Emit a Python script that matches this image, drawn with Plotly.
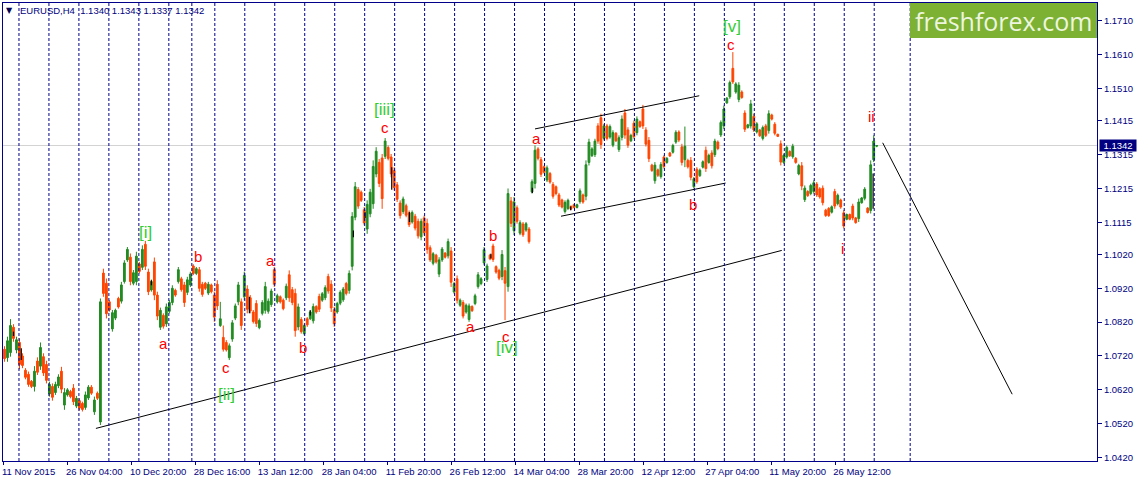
import plotly.graph_objects as go

# Price values in pips (price x 10000), one entry per sampled H4 bar
bar_high = [
10749,10777,10829,10814,10777,10772,10728,10684,10674,10649,10690,10716,10760,10728,10706,10644,10639,10644,10666,10688,
10625,10625,10620,10637,10602,10595,10585,10615,10634,10634,10600,10615,10890,10978,10949,10885,10856,10860,10895,10939,
11003,11042,11023,10974,11028,10998,11047,11060,10978,10946,11011,10910,10863,10846,10875,10885,10929,10919,10983,10954,
10939,10954,10969,10991,10983,10983,10939,10939,10939,10934,10910,10944,10880,10810,10767,10757,10826,10875,10939,10890,
10969,10929,10900,10856,10885,10831,10885,10939,10890,10919,10983,10904,10899,10890,10934,10973,10924,10919,10875,10835,
10816,10835,10855,10875,10870,10904,10909,10929,10963,10944,10865,10880,10914,10924,10939,10973,11145,11234,11219,11209,
11160,11180,11214,11298,11337,11302,11317,11364,11342,11317,11278,11234,11180,11191,11170,11150,11150,11140,11126,11126,
11135,11126,11047,11027,11022,11012,11042,11027,11067,11042,10939,10958,10890,10885,10875,10875,10870,10904,10968,10953,
11042,10993,11022,11052,10988,10978,11033,10983,11215,11190,11190,11165,11121,11116,11116,11101,11242,11342,11337,11308,
11283,11283,11264,11234,11224,11202,11185,11180,11185,11165,11170,11170,11215,11200,11298,11362,11337,11362,11408,11436,
11406,11406,11404,11387,11382,11372,11431,11450,11396,11377,11416,11428,11416,11462,11396,11367,11288,11293,11274,11293,
11313,11308,11323,11347,11387,11387,11347,11398,11303,11308,11249,11278,11274,11298,11339,11318,11328,11362,11357,11416,
11460,11485,11534,11618,11529,11529,11505,11446,11406,11477,11436,11411,11391,11401,11406,11446,11436,11411,11377,11357,
11318,11342,11328,11347,11308,11288,11293,11224,11210,11229,11239,11234,11219,11224,11155,11160,11165,11214,11200,11185,
11151,11141,11141,11170,11131,11185,11190,11219,11160,11298,11372,11343]
bar_low = [
10703,10703,10718,10762,10728,10681,10684,10651,10629,10625,10615,10664,10679,10661,10639,10600,10588,10605,10625,10610,
10561,10600,10595,10575,10566,10559,10556,10561,10590,10605,10546,10590,10516,10895,10831,10851,10792,10826,10860,10875,
10934,10998,10929,10929,10929,10964,10974,10974,10900,10910,10885,10826,10797,10801,10806,10846,10870,10895,10934,10910,
10865,10900,10924,10959,10959,10910,10895,10915,10900,10905,10821,10856,10806,10733,10733,10708,10762,10826,10870,10797,
10885,10846,10846,10816,10806,10799,10840,10845,10845,10865,10924,10875,10875,10855,10885,10880,10870,10777,10796,10786,
10781,10806,10826,10816,10845,10850,10880,10885,10904,10850,10806,10845,10870,10880,10899,10904,10973,11121,11155,11175,
11106,11081,11130,11155,11248,11219,11155,11302,11298,11248,11209,11175,11126,11140,11130,11101,11111,11091,11067,11062,
11076,11022,10998,10988,10993,10953,10998,11008,11008,10924,10904,10875,10865,10831,10845,10821,10850,10870,10919,10929,
10988,10939,11003,10998,10963,10944,10944,10826,10910,11101,11077,11111,11077,11072,11087,11052,11200,11215,11298,11249,
11259,11234,11229,11185,11195,11160,11156,11141,11151,11151,11156,11156,11170,11170,11180,11283,11308,11308,11347,11332,
11357,11357,11362,11337,11352,11323,11357,11362,11335,11352,11362,11372,11394,11391,11339,11293,11264,11229,11249,11244,
11274,11288,11308,11318,11347,11352,11283,11278,11274,11239,11215,11229,11249,11274,11264,11288,11274,11308,11328,11367,
11391,11465,11480,11524,11495,11470,11480,11382,11392,11392,11382,11377,11367,11357,11367,11377,11416,11372,11367,11283,
11288,11303,11308,11303,11288,11254,11210,11175,11190,11195,11200,11190,11185,11165,11131,11131,11141,11155,11165,11155,
11097,11121,11121,11121,11111,11116,11170,11180,11141,11141,11293,11337]
bar_open = [
10740,10715,10730,10805,10738,10760,10720,10678,10666,10645,10630,10705,10690,10718,10695,10608,10630,10612,10632,10675,
10575,10605,10615,10625,10572,10588,10580,10568,10596,10628,10555,10610,10525,10965,10935,10880,10800,10832,10890,10882,
10940,11004,11012,10935,10940,10992,10982,11050,10968,10915,10998,10900,10805,10840,10815,10852,10878,10914,10940,10948,
10930,10908,10930,10986,10964,10975,10932,10935,10906,10930,10900,10932,10810,10775,10760,10715,10770,10832,10880,10880,
10895,10918,10892,10850,10875,10804,10846,10855,10852,10872,10975,10880,10895,10885,10892,10960,10916,10905,10806,10828,
10786,10830,10830,10824,10866,10896,10885,10892,10955,10932,10857,10850,10876,10886,10934,10914,10985,11130,11212,11204,
11152,11095,11140,11170,11258,11292,11305,11310,11336,11308,11268,11226,11172,11147,11164,11143,11116,11133,11118,11072,
11128,11112,11040,10994,11018,10962,11004,11024,11016,11030,10909,10948,10870,10878,10850,10828,10866,10875,10925,10934,
10995,10946,11018,11045,10984,10973,10955,10972,10925,11178,11090,11158,11083,11110,11092,11095,11205,11230,11332,11300,
11279,11240,11259,11227,11220,11196,11181,11147,11156,11162,11167,11159,11176,11196,11192,11292,11312,11315,11400,11424,
11363,11400,11367,11343,11378,11330,11366,11438,11388,11356,11408,11380,11412,11450,11388,11357,11284,11238,11270,11250,
11308,11292,11320,11322,11352,11382,11338,11300,11298,11298,11220,11272,11253,11278,11328,11292,11320,11315,11352,11373,
11400,11468,11486,11570,11500,11478,11500,11438,11395,11400,11428,11382,11388,11363,11400,11386,11432,11405,11375,11347,
11292,11308,11324,11309,11304,11258,11282,11182,11206,11200,11206,11228,11214,11216,11151,11156,11145,11206,11170,11181,
11143,11124,11138,11163,11128,11126,11173,11186,11157,11150,11300,11340]
bar_close = [
10712,10765,10810,10772,10768,10695,10692,10657,10636,10630,10675,10672,10745,10670,10648,10636,10598,10636,10658,10622,
10612,10620,10600,10585,10595,10566,10562,10605,10628,10610,10590,10595,10880,10905,10845,10856,10848,10855,10865,10930,
10995,11035,10940,10966,11015,10970,11035,10985,10910,10940,10900,10838,10855,10808,10865,10878,10920,10900,10975,10916,
10878,10945,10962,10964,10978,10920,10902,10920,10932,10910,10835,10868,10830,10740,10738,10750,10818,10868,10930,10810,
10958,10858,10853,10822,10816,10825,10878,10925,10882,10912,10932,10898,10880,10860,10926,10892,10878,10795,10865,10792,
10810,10812,10850,10866,10850,10858,10904,10922,10912,10862,10815,10875,10908,10918,10905,10964,11132,11220,11163,11180,
11113,11168,11204,11280,11325,11230,11185,11355,11304,11258,11218,11183,11135,11184,11136,11108,11144,11098,11075,11118,
11084,11035,11004,11022,10998,11004,11036,11012,11058,10938,10934,10885,10885,10838,10870,10868,10854,10898,10960,10948,
11034,10986,11007,11005,10968,10950,11020,10935,11200,11112,11175,11118,11114,11078,11111,11058,11235,11328,11304,11257,
11263,11276,11234,11192,11200,11166,11160,11174,11180,11154,11159,11167,11208,11175,11285,11352,11332,11355,11355,11345,
11400,11363,11398,11380,11356,11365,11420,11373,11343,11372,11368,11420,11398,11400,11346,11303,11268,11284,11254,11286,
11280,11304,11311,11342,11381,11358,11292,11340,11279,11248,11244,11235,11269,11294,11274,11313,11282,11355,11333,11410,
11450,11482,11528,11530,11524,11520,11484,11390,11403,11465,11388,11406,11371,11395,11372,11436,11420,11378,11369,11293,
11313,11336,11312,11340,11292,11283,11222,11216,11194,11224,11232,11196,11190,11173,11135,11135,11161,11163,11195,11160,
11104,11138,11124,11128,11114,11175,11187,11213,11144,11285,11355,11342]

# Thin black doji-coloured bars seen among the candles
black_bar = [3.0,5.6,49.0,81.7,102.0,116.4,120.3,129.2,135.1,162.3,176.1,188.9,289.8]
black_high = [10792,10743,10944,10895,10855,11091,11145,11278,11145,11022,11217,11162,11259]
black_low = [10779,10708,10929,10846,10840,11071,11128,11211,11116,11008,11202,11151,11155]

# Hand-drawn trend lines
base_line_x = [30.5, 259.33];   base_line_y = [1.0506, 1.1032]
upper_chan_x = [177.0, 231.8];  upper_chan_y = [1.1391, 1.1489]
lower_chan_x = [185.67, 240.6]; lower_chan_y = [1.1133, 1.1231]
forecast_x = [293.0, 336.2];    forecast_y = [1.1350, 1.0607]

# Vertical dashed period separators (bar numbers)
separators = [4.83,14.83,24.83,34.83,44.83,54.83,62.5,70.17,80.17,90.17,100.17,110.17,120.17,130.17,140.17,150.17,
              160.17,170.17,180.17,190.17,200.17,210.17,220.17,230.17,240.17,250.17,260.17,270.17,280.17,290.17,302.17]

# Wave counts
red_text = ["a","b","c","a","b","c","a","b","c","a","b","c","i","ii"]
red_x = [53,64.67,74,88.67,99.67,127,155.33,162.9,167.33,177.33,229.67,242.33,279.57,289.23]
red_y = [1.0758,1.1015,1.0687,1.1003,1.0746,1.1395,1.0808,1.1077,1.0779,1.1363,1.1168,1.1640,1.1039,1.1429]
green_text = ["[i]","[ii]","[iii]","[iv]","[v]"]
green_x = [47,74.23,126.67,167.57,242.57]
green_y = [1.1086,1.0605,1.1448,1.0746,1.1693]

date_ticks = [-0.17,21.17,42.5,63.83,85.17,106.5,127.83,149.17,170.5,191.83,213.17,234.5,255.83,277.17]
date_labels = ["11 Nov 2015","26 Nov 04:00","10 Dec 20:00","28 Dec 16:00","13 Jan 12:00","28 Jan 04:00","11 Feb 20:00",
               "26 Feb 12:00","14 Mar 04:00","28 Mar 20:00","12 Apr 12:00","27 Apr 04:00","11 May 20:00","26 May 12:00"]
price_ticks = [1.1710,1.1610,1.1510,1.1415,1.1315,1.1215,1.1115,1.1020,1.0920,1.0820,1.0720,1.0620,1.0520,1.0420]
last_price = 1.1342
bars = list(range(len(bar_high)))

NAVY = "#00008B"
GREEN = "#228B22"
ORANGE = "#FF4500"
LIME = "#32CD32"
RED = "#FF0000"
FONT = "Liberation Sans"

fig = go.Figure()
fig.add_trace(go.Candlestick(
    x=bars,
    open=[v / 10000 for v in bar_open], high=[v / 10000 for v in bar_high],
    low=[v / 10000 for v in bar_low], close=[v / 10000 for v in bar_close],
    increasing=dict(line=dict(color=GREEN, width=1), fillcolor=GREEN),
    decreasing=dict(line=dict(color=ORANGE, width=1), fillcolor=ORANGE),
    whiskerwidth=0, hoverinfo="skip", showlegend=False))

bx, by = [], []
for x, h, l in zip(black_bar, black_high, black_low):
    bx += [x, x, None]
    by += [h / 10000, l / 10000, None]
fig.add_trace(go.Scatter(x=bx, y=by, mode="lines", line=dict(color="black", width=1.2),
                         hoverinfo="skip", showlegend=False))

for lx, ly in [(base_line_x, base_line_y), (upper_chan_x, upper_chan_y),
               (lower_chan_x, lower_chan_y), (forecast_x, forecast_y)]:
    fig.add_trace(go.Scatter(x=lx, y=ly, mode="lines", line=dict(color="black", width=1),
                             hoverinfo="skip", showlegend=False))

shapes = [dict(type="line", xref="paper", x0=0, x1=1, yref="y", y0=last_price, y1=last_price,
               line=dict(color="#D3D3D3", width=1), layer="below")]
for s in separators:
    shapes.append(dict(type="line", xref="x", x0=s, x1=s, yref="paper", y0=0, y1=1,
                       line=dict(color=NAVY, width=1, dash="3px,2px")))
shapes.append(dict(type="rect", xref="paper", x0=0.8290, x1=1, yref="paper", y0=0.9235, y1=1,
                   fillcolor="#7CB133", line=dict(width=0)))

ann = []
for t, x, y in zip(red_text, red_x, red_y):
    ann.append(dict(text=t, x=x, y=y, xref="x", yref="y", showarrow=False, xanchor="center", yanchor="middle",
                    font=dict(family=FONT, size=15, color=RED)))
for t, x, y in zip(green_text, green_x, green_y):
    ann.append(dict(text=t, x=x, y=y, xref="x", yref="y", showarrow=False, xanchor="center", yanchor="middle",
                    font=dict(family=FONT, size=17, color=LIME)))
ann.append(dict(text="freshforex.com", xref="paper", yref="paper", x=0.9145, y=0.9615, showarrow=False,
                xanchor="center", yanchor="middle",
                font=dict(family="Open Sans", size=25, color="#EDF5DF")))
ann.append(dict(text="▼", xref="x", yref="y", x=1.8, y=1.1741, showarrow=False, xanchor="center", yanchor="middle",
                font=dict(family="DejaVu Sans", size=8, color="#000050")))
ann.append(dict(text="EURUSD,H4  1.1340 1.1343 1.1337 1.1342", xref="x", yref="y", x=4.6, y=1.1741,
                xanchor="left", yanchor="middle", showarrow=False, font=dict(family=FONT, size=9.5, color="#000080")))
ann.append(dict(text=f"{last_price:.4f}", xref="paper", yref="y", x=1.0015, y=last_price, xanchor="left",
                yanchor="middle", showarrow=False, bgcolor="#000080", width=36, height=11, borderpad=0,
                font=dict(family=FONT, size=9.5, color="white")))

fig.update_layout(
    width=1137, height=483, autosize=False,
    margin=dict(l=2.5, r=39.5, t=2.5, b=21.5, pad=0),
    paper_bgcolor="white", plot_bgcolor="white",
    boxgap=0.15, showlegend=False, shapes=shapes, annotations=ann,
    xaxis=dict(range=[-0.5, 364.5], rangeslider=dict(visible=False), showgrid=False, zeroline=False,
               tickmode="array", tickvals=date_ticks, ticktext=date_labels, ticks="outside", ticklen=3,
               tickcolor=NAVY, tickwidth=1, showline=True, linecolor=NAVY, linewidth=1, mirror=True,
               ticklabelposition="outside right", tickangle=0, automargin=False,
               ticklabelshift=-3, ticklabelstandoff=2,
               tickfont=dict(family=FONT, size=9.5, color="#000080"), fixedrange=True),
    yaxis=dict(range=[1.04097, 1.17631], side="right", showgrid=False, zeroline=False, automargin=False,
               tickmode="array", tickvals=price_ticks, ticktext=[f"{p:.4f}" for p in price_ticks],
               ticks="outside", ticklen=4, tickcolor=NAVY, tickwidth=1, showline=True, linecolor=NAVY,
               linewidth=1, mirror=True, tickfont=dict(family=FONT, size=9.5, color="#000080"), fixedrange=True),
)

fig.write_html("out.html", config=dict(displayModeBar=False),
               post_script="document.body.style.margin='0';document.body.style.overflow='hidden';")
